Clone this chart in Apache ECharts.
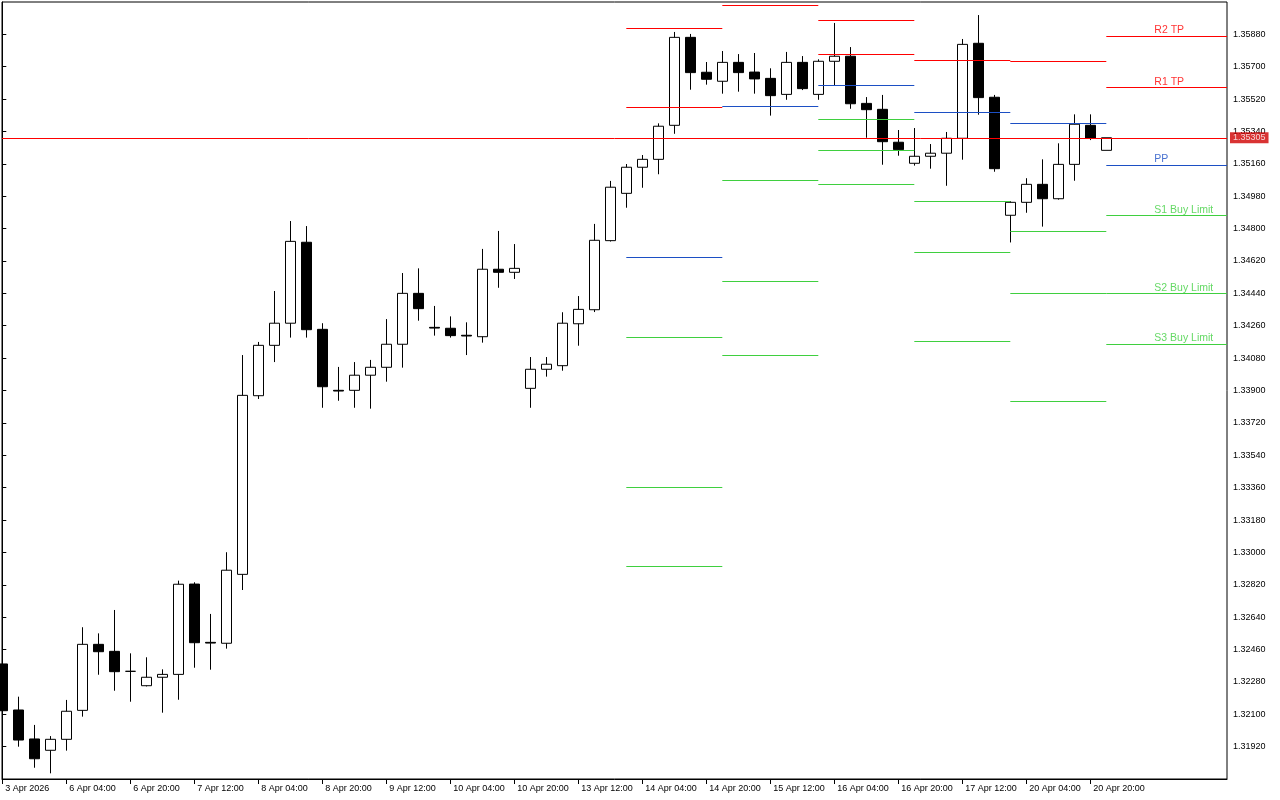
<!DOCTYPE html>
<html>
<head>
<meta charset="utf-8">
<script src="https://cdn.jsdelivr.net/npm/echarts@6.0.0/dist/echarts.min.js"></script>
<style>
  html, body { margin: 0; padding: 0; background: #fff; }
  #chart { width: 1280px; height: 800px; }
</style>
</head>
<body>
<div id="chart"></div>
<script>
// 4H candles, 3 Apr 2026 12:00 .. 21 Apr 2026 00:00
const open = [
  1.32380, 1.32124, 1.31963, 1.31900, 1.31961, 1.32122, 1.32489, 1.32450, 1.32339, 1.32259,
  1.32306, 1.32322, 1.32824, 1.32500, 1.32495, 1.32878, 1.33871, 1.34151, 1.34274, 1.34724,
  1.34240, 1.33901, 1.33901, 1.33985, 1.34029, 1.34157, 1.34440, 1.34251, 1.34246, 1.34207,
  1.34199, 1.34574, 1.34557, 1.33912, 1.34018, 1.34038, 1.34271, 1.34349, 1.34733, 1.34996,
  1.35141, 1.35185, 1.35374, 1.35863, 1.35669, 1.35619, 1.35724, 1.35670, 1.35635, 1.35546,
  1.35724, 1.35546, 1.35730, 1.35758, 1.35496, 1.35463, 1.35280, 1.35163, 1.35202, 1.35219,
  1.35302, 1.35830, 1.35530, 1.34874, 1.34946, 1.35046, 1.34966, 1.35157, 1.35374, 1.35235
];
const close = [
  1.32120, 1.31957, 1.31853, 1.31961, 1.32117, 1.32489, 1.32448, 1.32337, 1.32339, 1.32306,
  1.32322, 1.32823, 1.32498, 1.32496, 1.32901, 1.33873, 1.34151, 1.34274, 1.34729, 1.34238,
  1.33921, 1.33897, 1.33985, 1.34029, 1.34157, 1.34440, 1.34355, 1.34247, 1.34205, 1.34203,
  1.34574, 1.34557, 1.34579, 1.34018, 1.34046, 1.34274, 1.34351, 1.34735, 1.35030, 1.35141,
  1.35185, 1.35369, 1.35863, 1.35667, 1.35630, 1.35724, 1.35667, 1.35632, 1.35539, 1.35724,
  1.35578, 1.35730, 1.35758, 1.35494, 1.35461, 1.35283, 1.35239, 1.35202, 1.35219, 1.35302,
  1.35824, 1.35528, 1.35133, 1.34946, 1.35046, 1.34966, 1.35157, 1.35380, 1.35302, 1.35305
];
const low = [
  1.32110, 1.31920, 1.31803, 1.31772, 1.31898, 1.32087, 1.32320, 1.32231, 1.32170, 1.32255,
  1.32109, 1.32181, 1.32359, 1.32348, 1.32465, 1.32791, 1.33853, 1.34058, 1.34194, 1.34194,
  1.33804, 1.33843, 1.33804, 1.33799, 1.33949, 1.34027, 1.34288, 1.34205, 1.34194, 1.34097,
  1.34166, 1.34471, 1.34520, 1.33804, 1.33977, 1.34010, 1.34149, 1.34336, 1.34728, 1.34916,
  1.35027, 1.35102, 1.35327, 1.35572, 1.35600, 1.35550, 1.35561, 1.35550, 1.35428, 1.35516,
  1.35570, 1.35516, 1.35597, 1.35466, 1.35305, 1.35155, 1.35205, 1.35150, 1.35133, 1.35038,
  1.35183, 1.35433, 1.35116, 1.34723, 1.34888, 1.34811, 1.34961, 1.35066, 1.35292, 1.35235
];
const high = [
  1.32390, 1.32198, 1.32041, 1.31979, 1.32180, 1.32584, 1.32550, 1.32680, 1.32439, 1.32417,
  1.32350, 1.32843, 1.32834, 1.32658, 1.33001, 1.34097, 1.34170, 1.34453, 1.34842, 1.34814,
  1.34274, 1.34031, 1.34058, 1.34070, 1.34297, 1.34553, 1.34579, 1.34370, 1.34312, 1.34279,
  1.34687, 1.34787, 1.34714, 1.34086, 1.34086, 1.34335, 1.34425, 1.34826, 1.35065, 1.35159,
  1.35209, 1.35385, 1.35893, 1.35882, 1.35726, 1.35787, 1.35770, 1.35776, 1.35691, 1.35782,
  1.35759, 1.35741, 1.35943, 1.35809, 1.35531, 1.35543, 1.35348, 1.35359, 1.35270, 1.35337,
  1.35854, 1.35987, 1.35543, 1.34952, 1.35080, 1.35185, 1.35274, 1.35435, 1.35435, 1.35305
];

// one label every 4 bars
const timeLabels = [
  '3 Apr 2026', '6 Apr 04:00', '6 Apr 20:00', '7 Apr 12:00', '8 Apr 04:00', '8 Apr 20:00',
  '9 Apr 12:00', '10 Apr 04:00', '10 Apr 20:00', '13 Apr 12:00', '14 Apr 04:00', '14 Apr 20:00',
  '15 Apr 12:00', '16 Apr 04:00', '16 Apr 20:00', '17 Apr 12:00', '20 Apr 04:00', '20 Apr 20:00'
];
const priceTicks = [
  1.31920, 1.32100, 1.32280, 1.32460, 1.32640, 1.32820, 1.33000, 1.33180, 1.33360, 1.33540,
  1.33720, 1.33900, 1.34080, 1.34260, 1.34440, 1.34620, 1.34800, 1.34980, 1.35160, 1.35340,
  1.35520, 1.35700, 1.35880
];
const lastPrice = 1.35305;

// daily pivots, bar index where each day starts (14, 15, 16, 17, 20, 21 Apr)
const dayStart = [39, 45, 51, 57, 63, 69];
const r2 = [1.35913, null, 1.35958, null, null, 1.35871];
const r1 = [1.35474, 1.36041, 1.35769, 1.35735, 1.35730, 1.35585];
const pp = [1.34640, 1.35480, 1.35597, 1.35446, 1.35385, 1.35153];
const s1 = [1.34196, 1.35068, 1.35408, 1.34952, 1.34785, 1.34874];
const s2 = [1.33362, 1.34507, 1.35235, 1.34668, 1.34440, 1.34440];
const s3 = [1.32923, 1.34096, 1.35046, 1.34173, 1.33840, 1.34158];
const levelNames = ['R2 TP', 'R1 TP', 'PP', 'S1 Buy Limit', 'S2 Buy Limit', 'S3 Buy Limit'];

const RED = '#ff0000';
const BLUE = '#1c4fc4';
const GREEN = '#3fcf3f';
const FONT = 'Liberation Sans';

const xMin = -0.01875;
const xMax = 76.54375;
const labelBar = 72;

const candles = open.map((o, i) => [i, o, close[i], low[i], high[i]]);
const tickIdx = timeLabels.map((_, i) => i * 4);

const levels = [r2, r1, pp, s1, s2, s3];
const levelColors = [RED, RED, BLUE, GREEN, GREEN, GREEN];
const last = dayStart.length - 1;

// [from bar, to bar, price, color index]
const segments = [];
levels.forEach((vals, k) => {
  vals.forEach((v, i) => {
    if (v == null) return;
    const end = i + 1 < dayStart.length ? dayStart[i + 1] : xMax;
    segments.push([dayStart[i], end, v, k]);
  });
});
segments.push([xMin, xMax, lastPrice, -1]);

// snap horizontal lines to whole pixels so they stay 1px sharp
function renderLevel(params, api) {
  const p0 = api.coord([api.value(0), api.value(2)]);
  const p1 = api.coord([api.value(1), api.value(2)]);
  const y = Math.floor(p0[1] + 0.5) + 0.5;
  const k = api.value(3);
  return {
    type: 'line',
    shape: { x1: p0[0], y1: y, x2: p1[0], y2: y },
    style: { stroke: k < 0 ? RED : levelColors[k], lineWidth: 1 },
  };
}

const myChart = echarts.init(document.getElementById('chart'));
myChart.setOption({
  animation: false,
  backgroundColor: '#fff',
  grid: {
    left: 2, right: 53, top: 2, bottom: 21,
    show: true, borderColor: '#000', borderWidth: 1,
    containLabel: false, outerBoundsMode: 'none',
  },
  xAxis: {
    type: 'value',
    min: xMin,
    max: xMax,
    axisLine: { show: true, onZero: false, lineStyle: { color: '#000', width: 1 } },
    axisTick: { show: true, customValues: tickIdx, length: 5, lineStyle: { color: '#000' } },
    axisLabel: {
      customValues: tickIdx,
      formatter: (v) => timeLabels[Math.round(v / 4)],
      align: 'left',
      margin: 5,
      padding: [0, 0, 0, 3],
      color: '#000',
      fontFamily: FONT,
      fontSize: 9,
    },
    splitLine: { show: false },
  },
  yAxis: {
    type: 'value',
    position: 'right',
    min: 1.3174044,
    max: 1.3605954,
    axisLine: { show: true, lineStyle: { color: '#000', width: 1 } },
    axisTick: { show: true, customValues: priceTicks, length: 4, lineStyle: { color: '#000' } },
    axisLabel: {
      customValues: priceTicks,
      formatter: (v) => v.toFixed(5),
      margin: 6,
      color: '#000',
      fontFamily: FONT,
      fontSize: 9,
    },
    splitLine: { show: false },
  },
  series: [
    {
      type: 'candlestick',
      data: candles,
      barWidth: 10,
      z: 2,
      itemStyle: {
        color: '#fff',
        color0: '#000',
        borderColor: '#000',
        borderColor0: '#000',
        borderColorDoji: '#000',
        borderWidth: 1,
      },
    },
    {
      type: 'custom',
      data: segments,
      encode: { x: [0, 1], y: 2 },
      renderItem: renderLevel,
      silent: true,
      z: 3,
    },
    {
      // level names over the current day's lines
      type: 'scatter',
      symbolSize: 0,
      silent: true,
      z: 4,
      data: levelNames.map((name, i) => ({
        value: [labelBar, levels[i][last]],
        label: { show: true, formatter: name, color: levelColors[i] },
      })),
      label: { position: [0, -11], fontFamily: FONT, fontSize: 10.5 },
    },
    {
      // price tag on the axis
      type: 'scatter',
      symbolSize: 0,
      silent: true,
      clip: false,
      z: 5,
      data: [[xMax, lastPrice]],
      label: {
        show: true,
        position: 'right',
        distance: 3,
        formatter: lastPrice.toFixed(5),
        backgroundColor: '#d00000',
        color: '#fff',
        padding: [1, 3, 1, 3],
        fontFamily: FONT,
        fontSize: 9,
      },
    },
  ],
});
</script>
</body>
</html>
